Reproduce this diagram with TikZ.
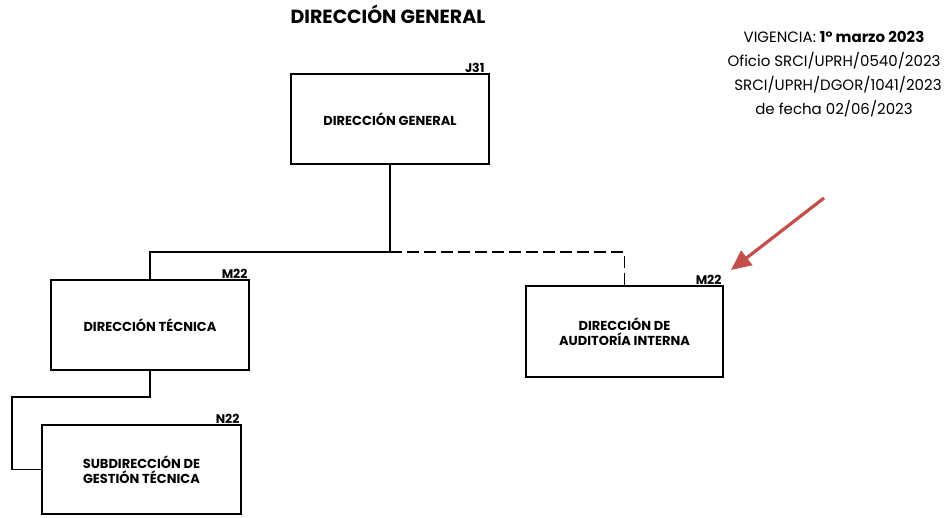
\documentclass[tikz,border=0pt]{standalone}
\usepackage{fontspec}
\setmainfont{Poppins}
\usetikzlibrary{arrows.meta}
\definecolor{arrowred}{RGB}{196,78,76}
\begin{document}
\begin{tikzpicture}[x=1pt, y=-1pt,
        unit/.style={draw, line width=1.4pt, align=center, font=\fontsize{13}{15.5}\selectfont\bfseries,
            minimum width=198pt, minimum height=90pt, inner sep=0pt},
        code/.style={font=\fontsize{12.5}{13}\selectfont\bfseries, anchor=south east, inner sep=1pt},
        link/.style={line width=1.4pt},
        pointer/.style={arrowred, line width=3.2pt, -{Triangle[length=20pt,width=18pt]}}]
    \useasboundingbox (0,0) rectangle (950,517);
    \node[font=\fontsize{19}{22}\selectfont\bfseries] (title) at (388,14) {DIRECCIÓN GENERAL};
    \node[font=\fontsize{15}{24}\selectfont, align=center] (vig) at (834,74)
        {VIGENCIA: \textbf{1° marzo 2023}\\Oficio SRCI/UPRH/0540/2023\\\ \ SRCI/UPRH/DGOR/1041/2023\\de fecha 02/06/2023};
    \node[unit] (dg) at (390,119) {DIRECCIÓN GENERAL};
    \node[unit] (dt) at (150,325) {DIRECCIÓN TÉCNICA};
    \node[unit, minimum width=197pt, minimum height=91pt] (dai) at (624.5,331.5) {DIRECCIÓN DE\\AUDITORÍA INTERNA};
    \node[unit, minimum width=199pt, minimum height=89pt] (sgt) at (141.5,469.5) {SUBDIRECCIÓN DE\\GESTIÓN TÉCNICA};
    \node[code] (jdg) at ([xshift=-4pt]dg.north east) {J31};
    \node[code] (jdt) at ([xshift=-1pt]dt.north east) {M22};
    \node[code] (jdai) at ([xshift=-1pt]dai.north east) {M22};
    \node[code] (jsgt) at ([xshift=-1pt]sgt.north east) {N22};
    % lines
    \coordinate (split) at (390,252);
    \coordinate (bend) at (12,397);
    \draw[link] (dg.south) -- (split) -| (dt.north);
    \draw[link, dash pattern=on 12pt off 5pt] (split) -| (dai.north);
    \draw[link] (dt.south) |- (bend) |- (sgt.west);
    % arrow
    \coordinate (tail) at (824,198);
    \coordinate (tip) at (731,270);
    \draw[pointer] (tail) -- (tip);
\end{tikzpicture}
\end{document}
